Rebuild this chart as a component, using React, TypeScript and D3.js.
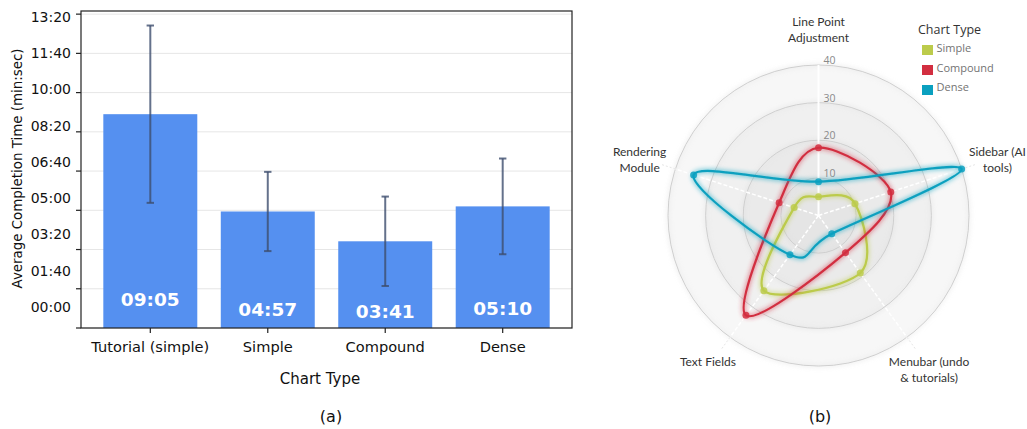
import * as d3 from "d3";
import React from "react";

// (a) bar chart data, seconds
const categories = ["Tutorial (simple)", "Simple", "Compound", "Dense"];
const meanSeconds = [545, 297, 221, 310];
const errorSeconds = [226, 101, 114, 122];
const yTicks = [0, 100, 200, 300, 400, 500, 600, 700, 800];

// (b) radar chart data
const radarAxes = [
  ["Line Point", "Adjustment"],
  ["Sidebar (AI", "tools)"],
  ["Menubar (undo", "& tutorials)"],
  ["Text Fields"],
  ["Rendering", "Module"],
];
const seriesNames = ["Simple", "Compound", "Dense"];
const seriesColors = ["#bccb4b", "#d22e40", "#0aa0bf"];
const simpleValues = [5.0, 10.2, 18.9, 24.7, 6.8];
const compoundValues = [18.0, 20.2, 12.2, 32.8, 11.0];
const denseValues = [9.0, 40, 6.0, 12.9, 34.9];
const radarLevels = [10, 20, 30, 40];

const seriesValues = [simpleValues, compoundValues, denseValues];

const fmt = (s: number) => {
  const m = Math.floor(s / 60);
  const sec = Math.round(s - m * 60);
  return String(m).padStart(2, "0") + ":" + String(sec).padStart(2, "0");
};

const BarChart = () => {
  const left = 81, right = 572, top = 11, bottom = 328;
  const x = d3.scaleBand().domain(categories).range([left, right]).paddingInner(0.2).paddingOuter(0.19);
  const y = d3.scaleLinear().domain([0, 808]).range([bottom, top]);
  // tick labels in the original sit slightly off the tick marks
  const yLabel = d3.scaleLinear().domain([0, 800]).range([307, 17]);
  const font = "DejaVu Sans, sans-serif";

  return (
    <g fontFamily={font}>
      {yTicks.map((t) => (
        <line key={"g" + t} x1={left} x2={right} y1={y(t)} y2={y(t)} stroke="#e6e6e6" strokeWidth={1} />
      ))}
      {categories.map((c, i) => {
        const cx = x(c)! + x.bandwidth() / 2;
        const hi = meanSeconds[i] + errorSeconds[i];
        const lo = meanSeconds[i] - errorSeconds[i];
        return (
          <g key={c}>
            <rect x={x(c)} y={y(meanSeconds[i])} width={x.bandwidth()} height={bottom - y(meanSeconds[i])} fill="#5590f0" />
            <g stroke="#3d4d6e" strokeOpacity={0.8} strokeWidth={2}>
              <line x1={cx} x2={cx} y1={y(hi)} y2={y(lo)} />
              <line x1={cx - 3.7} x2={cx + 3.7} y1={y(hi)} y2={y(hi)} />
              <line x1={cx - 3.7} x2={cx + 3.7} y1={y(lo)} y2={y(lo)} />
            </g>
            <text x={cx} y={y(20 + meanSeconds[i] * 0.095)} dy="0.35em" textAnchor="middle" fill="#fff" fontWeight="bold" fontSize={18.5}>
              {fmt(meanSeconds[i])}
            </text>
            <line x1={cx} x2={cx} y1={bottom} y2={bottom + 5} stroke="#222" strokeWidth={1.2} />
            <text x={cx} y={bottom + 24} textAnchor="middle" fontSize={14.6} fill="#111">{c}</text>
          </g>
        );
      })}
      {yTicks.map((t) => (
        <g key={"t" + t}>
          <line x1={left - 5} x2={left} y1={y(t)} y2={y(t)} stroke="#222" strokeWidth={1.2} />
          <text x={71} y={yLabel(t)} dy="0.35em" textAnchor="end" fontSize={14} fill="#111">{fmt(t)}</text>
        </g>
      ))}
      <rect x={left} y={top} width={right - left} height={bottom - top} fill="none" stroke="#222" strokeWidth={1.2} />
      <text transform="translate(17,168.5) rotate(-90)" dy="0.35em" textAnchor="middle" fontSize={13.4} fill="#111">
        Average Completion Time (min:sec)
      </text>
      <text x={320} y={384} textAnchor="middle" fontSize={15} fill="#111">Chart Type</text>
      <text x={331} y={422} textAnchor="middle" fontSize={16} fill="#111">(a)</text>
    </g>
  );
};

const RadarChart = () => {
  const cx = 818.5, cy = 215.5, radius = 150.5;
  const r = d3.scaleLinear().domain([0, 40]).range([0, radius]);
  const slice = (Math.PI * 2) / radarAxes.length;
  const line = d3
    .lineRadial<number>()
    .curve(d3.curveCardinalClosed)
    .radius((d) => r(d))
    .angle((_, i) => i * slice);
  const labelFont = "Lato, Open Sans, sans-serif";

  return (
    <g>
      <defs>
        <filter id="glow">
          <feGaussianBlur stdDeviation="2.5" result="coloredBlur" />
          <feMerge>
            <feMergeNode in="coloredBlur" />
            <feMergeNode in="SourceGraphic" />
          </feMerge>
        </filter>
      </defs>
      <g transform={`translate(${cx},${cy})`}>
        {radarLevels
          .slice()
          .reverse()
          .map((lv) => (
            <circle key={lv} r={r(lv)} fill="#CDCDCD" fillOpacity={0.07} stroke="#cfcfcf" strokeWidth={1} filter="url(#glow)" />
          ))}
        {radarLevels.map((lv) => (
          <text key={"l" + lv} x={5} y={-r(lv) - 1} fontSize={10.5} fill="#8a8a8a" fontFamily="Open Sans, sans-serif">
            {lv}
          </text>
        ))}
        {radarAxes.map((lab, i) => {
          const a = i * slice;
          const ex = r(44) * Math.sin(a), ey = -r(44) * Math.cos(a);
          const ox = r(40) * Math.sin(a), oy = -r(40) * Math.cos(a);
          const lx = r(50) * Math.sin(a), ly = -r(50) * Math.cos(a);
          return (
            <g key={i}>
              {i === 0 ? (
                <line x1={0} y1={0} x2={ox} y2={oy} stroke="#fff" strokeWidth={2} />
              ) : (
                <>
                  <line x1={ox} y1={oy} x2={ex} y2={ey} stroke="#e6e6e6" strokeWidth={1} strokeDasharray="2,2" />
                  <line x1={0} y1={0} x2={ox} y2={oy} stroke="#fff" strokeWidth={1.5} strokeDasharray="4,2" />
                </>
              )}
              <text x={lx} y={ly - 6} textAnchor="middle" fontFamily={labelFont} fontSize={12} fill="#333">
                {lab.map((t, k) => (
                  <tspan key={k} x={lx} dy={k === 0 ? "0.35em" : 16}>
                    {t}
                  </tspan>
                ))}
              </text>
            </g>
          );
        })}
        {seriesValues.map((vals, s) => (
          <g key={seriesNames[s]}>
            <path d={line(vals) ?? ""} fill="none" stroke={seriesColors[s]} strokeWidth={2.2} filter="url(#glow)" />
            {vals.map((v, i) => (
              <circle
                key={i}
                cx={r(v) * Math.sin(i * slice)}
                cy={-r(v) * Math.cos(i * slice)}
                r={3.5}
                fill={seriesColors[s]}
                fillOpacity={0.85}
              />
            ))}
          </g>
        ))}
      </g>
      <g fontFamily="Open Sans, sans-serif">
        <text x={918} y={30} dy="0.35em" fontSize={12.5} fill="#333">Chart Type</text>
        {seriesNames.map((n, i) => (
          <g key={n}>
            <rect x={922} y={45 + i * 20} width={11} height={10} fill={seriesColors[i]} />
            <text x={936.5} y={48.5 + i * 19.5} dy="0.35em" fontSize={11} fill="#737373">{n}</text>
          </g>
        ))}
      </g>
      <text x={820} y={422} textAnchor="middle" fontSize={16} fill="#111" fontFamily="DejaVu Sans, sans-serif">(b)</text>
    </g>
  );
};

export default function App() {
  return (
    <svg width={1027} height={429} style={{ position: "absolute", left: 0, top: 0, background: "#fff" }}>
      <BarChart />
      <RadarChart />
    </svg>
  );
}
